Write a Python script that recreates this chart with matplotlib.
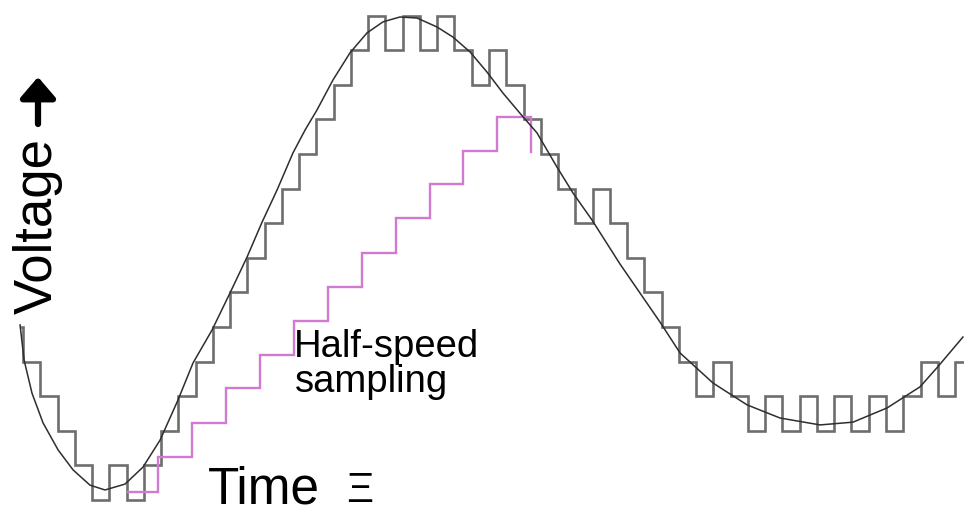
import numpy as np
import matplotlib
matplotlib.use("Agg")
import matplotlib.pyplot as plt

plt.rcParams['font.family'] = ['Liberation Sans', 'DejaVu Sans']

# time in sample periods, voltage in quantisation levels

# smooth analogue signal
sine_t = [-0.17, 0.06, 0.52, 1.16, 2.03, 2.90, 3.88, 4.75, 5.91, 6.95, 7.94,
          8.98, 9.85, 10.95, 11.99, 12.98, 13.85, 14.72, 15.64, 16.35, 17.03,
          17.96, 18.94, 19.93, 20.86, 21.84, 22.83, 23.99, 24.91, 25.90, 26.88,
          27.81, 28.79, 29.78, 30.94, 31.87, 32.97, 34.59, 35.75, 36.91, 38.07,
          39.98, 41.95, 43.86, 46.18, 48.09, 50.06, 51.97, 52.95, 54.46]
sine_v = [5.06, 4.05, 3.09, 2.23, 1.45, 0.87, 0.43, 0.29, 0.46, 0.95, 1.73,
          2.89, 3.96, 4.91, 5.98, 7.02, 8.03, 8.96, 10.03, 10.70, 11.27,
          12.14, 12.92, 13.50, 13.82, 13.96, 13.93, 13.67, 13.38, 12.95, 12.37,
          11.76, 11.18, 10.61, 9.62, 8.87, 8.09, 6.82, 5.98, 5.14, 4.25,
          3.38, 2.75, 2.37, 2.17, 2.25, 2.66, 3.27, 3.82, 4.71]

# full speed sampled + quantised signal
gray_edges = [-0.05] + list(range(0, 56))
gray_levels = [5, 4, 3, 2, 1, 0, 1, 0, 1, 2, 3, 4, 5, 6, 7, 8, 9, 10, 11, 12,
               13, 14, 13, 14, 13, 14, 13, 12, 13, 12, 11, 10, 9, 8, 9, 8, 7,
               6, 5, 4, 3, 4, 3, 2, 3, 2, 3, 2, 3, 2, 3, 2, 3, 4, 3, 4]

# half speed sampling
half_edges = [6.08, 7.82, 9.79, 11.76, 13.73, 15.70, 17.67, 19.64, 21.61,
              23.58, 25.49, 27.46, 29.43]
half_levels = [0.23, 1.24, 2.23, 3.24, 4.20, 5.17, 6.15, 7.15, 8.15, 9.12,
               10.10, 11.08]
half_end = 10.06

fig = plt.figure(figsize=(9.64, 5.09), dpi=100)
ax = fig.add_axes([0, 0, 1, 1])
ax.set_xlim(-1.3326, 54.52)
ax.set_ylim(-0.26, 14.451)
ax.axis('off')

ax.plot(gray_edges, gray_levels + [gray_levels[-1]], drawstyle='steps-post',
        color='#6e6e6e', lw=1.9, solid_joinstyle='miter')
ax.plot(half_edges, half_levels + [half_end], drawstyle='steps-post',
        color='#d27ad2', lw=1.7, solid_joinstyle='miter')
ax.plot(sine_t, sine_v, color='#2e2e2e', lw=1.1)

ax.text(38 / 964, 1 - 226 / 509, 'Voltage', rotation=90,
        transform=ax.transAxes, ha='center', va='center', fontsize=38)
# bold arrow above the axis label
ax.annotate('', xy=(38 / 964, 1 - 77 / 509), xytext=(38 / 964, 1 - 124 / 509),
            xycoords='axes fraction', textcoords='axes fraction',
            arrowprops=dict(arrowstyle='-|>,head_length=0.42,head_width=0.36',
                            lw=4.5, color='black', mutation_scale=30,
                            shrinkA=0, shrinkB=0))
ax.text(208 / 964, 1 - 504 / 509, 'Time', transform=ax.transAxes,
        ha='left', va='baseline', fontsize=37)
ax.text(346 / 964, 1 - 502 / 509, '\u039e', transform=ax.transAxes,
        ha='left', va='baseline', fontsize=30)
ax.text(294 / 964, 1 - 357 / 509, 'Half-speed', transform=ax.transAxes,
        ha='left', va='baseline', fontsize=27.5)
ax.text(295 / 964, 1 - 392 / 509, 'sampling', transform=ax.transAxes,
        ha='left', va='baseline', fontsize=27.5)

fig.savefig('out.png', dpi=100)
